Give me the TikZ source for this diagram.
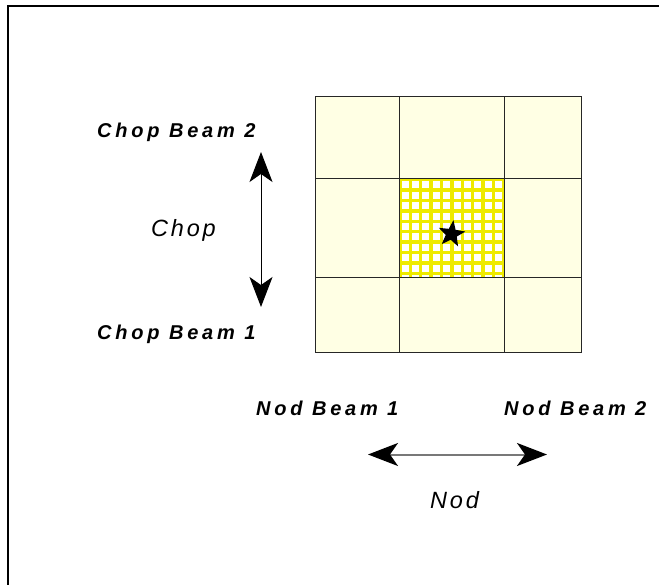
\documentclass[tikz,border=0pt]{standalone}
\usepackage{fontspec}
\usetikzlibrary{arrows.meta,shapes.geometric}
\newfontfamily\beamfont[LetterSpace=19]{Liberation Sans}
\newfontfamily\motionfont[LetterSpace=12]{Liberation Sans}
\definecolor{paleyellow}{RGB}{255,255,228}
\definecolor{hotyellow}{RGB}{238,234,0}
\definecolor{shaftgray}{RGB}{120,120,120}
\begin{document}
\begin{tikzpicture}[x=1pt,y=-1pt,
  frame/.style={line width=2.2pt,black},
  gridline/.style={line width=1pt,black!85},
  beamlabel/.style={font=\beamfont\bfseries\itshape\fontsize{20}{22}\selectfont,inner sep=0pt,anchor=base west},
  motionlabel/.style={font=\motionfont\itshape\fontsize{23.5}{26}\selectfont,inner sep=0pt,anchor=base west},
  bigarrow/.style={{Stealth[length=30pt,width=23pt,inset=8pt,color=black]}-{Stealth[length=30pt,width=23pt,inset=8pt,color=black]}},
]
\useasboundingbox (0,0) rectangle (659,585);

% open frame along the top and left
\draw[frame] (659,6) -- (8,6) -- (8,585);

% 3x3 field of beam positions
\fill[paleyellow] (315,97) rectangle (581,353);
\fill[hotyellow] (399,179) rectangle (504,278);
\begin{scope}
  \clip (399,179) rectangle (504,278);
  \foreach \i in {0,...,9}
    \foreach \j in {0,...,9}
      \fill[white] ({401.5+\i*10.4},{181.5+\j*10.4}) rectangle ++(7,7);
\end{scope}
\draw[gridline] (315,97) rectangle (581,353);
\draw[gridline] (399,97) -- (399,353) (504,97) -- (504,353);
\draw[gridline] (315,179) -- (581,179) (315,278) -- (581,278);

% source position
\node[star,star points=5,star point ratio=2.4,fill=black,inner sep=0pt,
      minimum size=28pt,rotate=-8] (source) at (451.5,234) {};

% chop direction
\coordinate (chopTop) at (261,152);
\coordinate (chopBot) at (261,307);
\draw[bigarrow,line width=1pt,black] (chopTop) -- (chopBot);
\node[beamlabel] (chopb2) at (97,138) {Chop Beam 2};
\node[beamlabel] (chopb1) at (97,340) {Chop Beam 1};
\node[motionlabel] (chop) at (151,237) {Chop};

% nod direction
\coordinate (nodLeft) at (368,454.5);
\coordinate (nodRight) at (547,454.5);
\draw[bigarrow,line width=2pt,shaftgray] (nodLeft) -- (nodRight);
\node[beamlabel] (nodb1) at (256,415) {Nod Beam 1};
\node[beamlabel] (nodb2) at (504,415) {Nod Beam 2};
\node[motionlabel] (nod) at (430,508) {Nod};
\end{tikzpicture}
\end{document}
